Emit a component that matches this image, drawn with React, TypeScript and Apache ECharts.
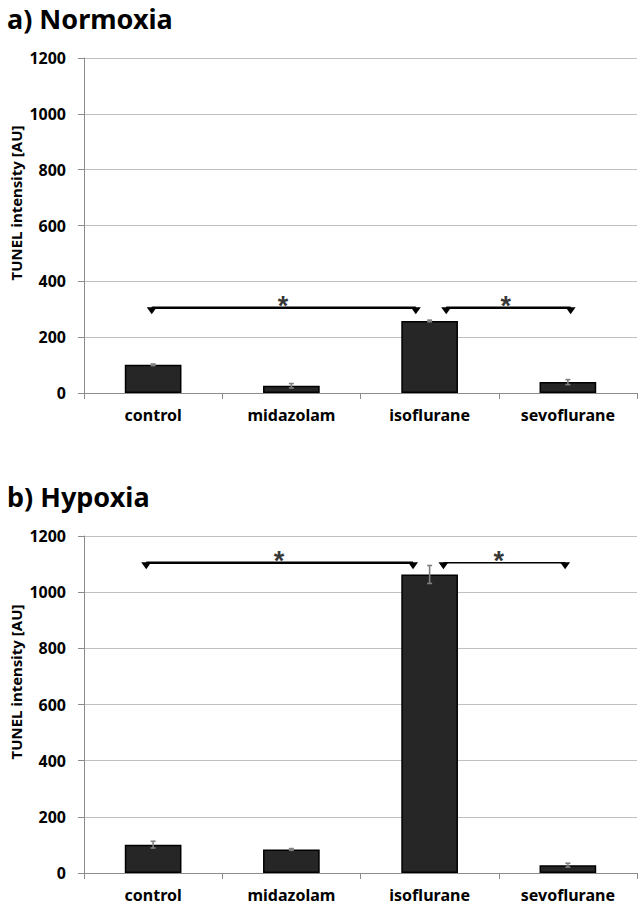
import React, { useEffect, useRef } from "react";
import * as echarts from "echarts";

const categories = ["control", "midazolam", "isoflurane", "sevoflurane"];
const normoxiaMeans = [101, 26, 258, 39];
const normoxiaErrors = [3, 8, 3, 9];
const hypoxiaMeans = [101, 84, 1063, 28];
const hypoxiaErrors = [12, 3, 32, 7];
const yTicks = [0, 200, 400, 600, 800, 1000, 1200];
const yTitle = "TUNEL intensity [AU]";
const panelTitles = ["a) Normoxia", "b) Hypoxia"];

// significance brackets, x in category units (0..4), y in data units
const normoxiaBrackets = [
  { from: 0.49, to: 2.4, y: 305, star: 1.44, width: 2.5 },
  { from: 2.62, to: 3.52, y: 305, star: 3.05, width: 2.5 },
];
const hypoxiaBrackets = [
  { from: 0.45, to: 2.38, y: 1105, star: 1.41, width: 2.5 },
  { from: 2.6, to: 3.48, y: 1105, star: 3.0, width: 1.5 },
];

const FONT = "'Noto Sans', 'Open Sans', sans-serif";

export default function App() {
  const ref = useRef<HTMLDivElement>(null);
  useEffect(() => {
    if (!ref.current) return;
    const chart = echarts.init(ref.current, undefined, { renderer: "svg" });

    const grids = [
      { left: 84, right: 2, top: 58, height: 335 },
      { left: 84, right: 2, top: 536, height: 337 },
    ];

    const catAxis = (gi: number) => ({
      type: "category",
      gridIndex: gi,
      data: categories,
      boundaryGap: true,
      axisLine: { show: true, lineStyle: { color: "#8c8c8c", width: 1 } },
      axisTick: { show: true, alignWithLabel: false, length: 6, lineStyle: { color: "#8c8c8c" } },
      axisLabel: { color: "#000", fontFamily: FONT, fontWeight: "bold", fontSize: 16, margin: 14 },
      splitLine: { show: false },
    });
    const valXAxis = (gi: number) => ({
      type: "value",
      gridIndex: gi,
      min: 0,
      max: 4,
      show: false,
    });
    const yAxis = (gi: number) => ({
      type: "value",
      gridIndex: gi,
      min: yTicks[0],
      max: yTicks[yTicks.length - 1],
      interval: 200,
      axisLine: { show: true, lineStyle: { color: "#8c8c8c", width: 1 } },
      axisTick: { show: true, length: 6, lineStyle: { color: "#8c8c8c" } },
      axisLabel: {
        color: "#000",
        fontFamily: FONT,
        fontWeight: "bold",
        fontSize: 16,
        margin: 18,
        formatter: (v: number) => String(v),
      },
      splitLine: { show: true, lineStyle: { color: "#c0c0c0", width: 1 } },
    });

    const barSeries = (gi: number, vals: number[]) => ({
      type: "bar",
      xAxisIndex: gi,
      yAxisIndex: gi,
      data: vals,
      barWidth: "41%",
      itemStyle: { color: "#262626", borderColor: "#000", borderWidth: 1.5 },
      z: 2,
    });

    const errSeries = (gi: number, vals: number[], errs: number[]) => ({
      type: "custom",
      xAxisIndex: gi,
      yAxisIndex: gi,
      z: 5,
      data: vals.map((v, i) => [i, v, errs[i]]),
      renderItem: (params: any, api: any) => {
        const x = api.value(0);
        const m = api.value(1);
        const e = api.value(2);
        const top = api.coord([x, m + e]);
        const bot = api.coord([x, m - e]);
        const w = 2.5;
        const st = { stroke: "#808080", lineWidth: 1.6 };
        return {
          type: "group",
          children: [
            { type: "line", shape: { x1: top[0], y1: top[1], x2: bot[0], y2: bot[1] }, style: st },
            { type: "line", shape: { x1: top[0] - w, y1: top[1], x2: top[0] + w, y2: top[1] }, style: st },
            { type: "line", shape: { x1: bot[0] - w, y1: bot[1], x2: bot[0] + w, y2: bot[1] }, style: st },
          ],
        };
      },
    });

    const bracketSeries = (gi: number, brackets: any[]) => {
      const out: any[] = [];
      brackets.forEach((b) => {
        out.push({
          type: "line",
          xAxisIndex: gi + 2,
          yAxisIndex: gi,
          data: [
            [b.from, b.y],
            [b.to, b.y],
          ],
          symbol: "triangle",
          symbolRotate: 180,
          symbolSize: [10, 7],
          symbolOffset: [0, 3],
          itemStyle: { color: "#000" },
          lineStyle: { color: "#000", width: b.width },
          z: 6,
        });
        out.push({
          type: "scatter",
          xAxisIndex: gi + 2,
          yAxisIndex: gi,
          data: [[b.star, b.y]],
          symbolSize: 0,
          label: {
            show: true,
            formatter: "*",
            position: "inside",
            offset: [0, -2],
            color: "#000",
            fontFamily: "'Liberation Sans', sans-serif",
            fontSize: 27,
            fontWeight: "bold",
          },
          z: 6,
        });
      });
      return out;
    };

    chart.setOption({
      animation: false,
      backgroundColor: "#fff",
      title: [
        {
          text: panelTitles[0],
          left: 2,
          top: 0,
          textStyle: { fontFamily: FONT, fontWeight: "bold", fontSize: 27, color: "#000" },
        },
        {
          text: panelTitles[1],
          left: 2,
          top: 478,
          textStyle: { fontFamily: FONT, fontWeight: "bold", fontSize: 27, color: "#000" },
        },
      ],
      graphic: [
        {
          type: "text",
          x: 16,
          y: 203,
          rotation: Math.PI / 2,
          style: {
            text: yTitle,
            fill: "#000",
            font: `bold 15px ${FONT}`,
            align: "center",
            verticalAlign: "middle",
          },
        },
        {
          type: "text",
          x: 16,
          y: 682,
          rotation: Math.PI / 2,
          style: {
            text: yTitle,
            fill: "#000",
            font: `bold 15px ${FONT}`,
            align: "center",
            verticalAlign: "middle",
          },
        },
      ],
      grid: grids,
      xAxis: [catAxis(0), catAxis(1), valXAxis(0), valXAxis(1)],
      yAxis: [yAxis(0), yAxis(1)],
      series: [
        barSeries(0, normoxiaMeans),
        barSeries(1, hypoxiaMeans),
        errSeries(0, normoxiaMeans, normoxiaErrors),
        errSeries(1, hypoxiaMeans, hypoxiaErrors),
        ...bracketSeries(0, normoxiaBrackets),
        ...bracketSeries(1, hypoxiaBrackets),
      ],
    });
    return () => chart.dispose();
  }, []);
  return (
    <div
      ref={ref}
      style={{ position: "fixed", left: 0, top: 0, width: 639, height: 906, background: "#fff" }}
    />
  );
}
